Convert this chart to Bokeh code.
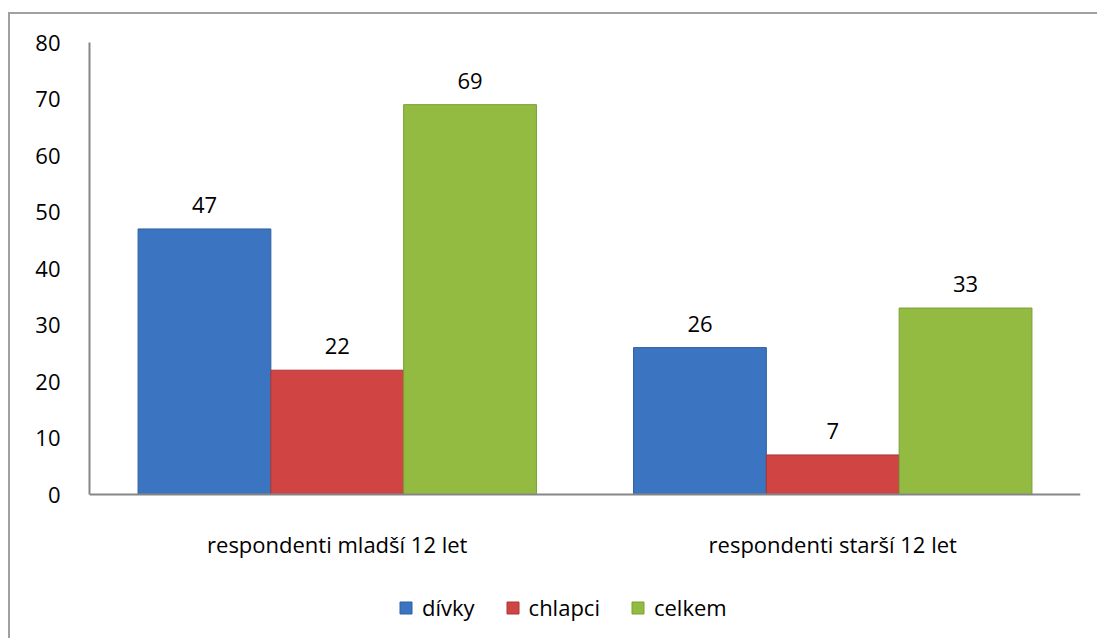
from bokeh.plotting import figure
from bokeh.models import ColumnDataSource, FactorRange, Range1d, Legend, LegendItem, LabelSet, InlineStyleSheet
from bokeh.core.properties import value
from bokeh.transform import dodge
from bokeh.embed import file_html
from bokeh.resources import INLINE

categories = ["respondenti mladší 12 let", "respondenti starší 12 let"]
series = ["dívky", "chlapci", "celkem"]
divky = [47, 26]
chlapci = [22, 7]
celkem = [69, 33]
colors = ["#3b74c1", "#d04543", "#93bb42"]
edge_colors = ["#30609f", "#a83735", "#7a9e37"]
y_ticks = [0, 10, 20, 30, 40, 50, 60, 70, 80]
y_max = 80

FONT = "Open Sans"
FS = "22px"

# layout in pixels: value axis 0..80 spans 452 px, area below it for labels + legend
AXIS_PX = 452
BELOW_PX = 144
y_min = -y_max * BELOW_PX / AXIS_PX

src = ColumnDataSource(dict(cat=categories, divky=divky, chlapci=chlapci, celkem=celkem,
                            divky_t=[str(v) for v in divky],
                            chlapci_t=[str(v) for v in chlapci],
                            celkem_t=[str(v) for v in celkem]))

p = figure(x_range=FactorRange(factors=categories, range_padding=0),
           y_range=Range1d(y_min, y_max), frame_width=991, frame_height=AXIS_PX + BELOW_PX,
           output_backend="svg", toolbar_location=None,
           min_border_left=89, min_border_right=10, min_border_top=42, min_border_bottom=0)

# outer chart border (only its top and left edges are visible in the reference)
p.stylesheets = [InlineStyleSheet(css="""
:host { position: relative; }
:host::before {
  content: ""; position: absolute; left: 8px; top: 12px; right: -40px; bottom: -40px;
  border-top: 2px solid #a0a0a0; border-left: 2px solid #a0a0a0;
  pointer-events: none; z-index: 5;
}
""")]

p.outline_line_color = None
p.xgrid.grid_line_color = None
p.ygrid.grid_line_color = None

w = 0.268
offsets = [-w, 0.0, w]
keys = ["divky", "chlapci", "celkem"]
renderers = []
for key, off, col, ec in zip(keys, offsets, colors, edge_colors):
    r = p.vbar(x=dodge("cat", off, range=p.x_range), top=key, bottom=0, width=w, source=src,
               fill_color=col, line_color=ec, line_width=1)
    renderers.append(r)
    lbl = LabelSet(x=dodge("cat", off, range=p.x_range), y=key, text=key + "_t", source=src,
                   text_align="center", text_baseline="bottom", y_offset=16,
                   text_font=value(FONT), text_font_size=FS, text_color="#000000")
    p.add_layout(lbl)

p.yaxis.ticker = y_ticks
p.yaxis.bounds = (0, y_max)
p.yaxis.axis_line_color = "#868686"
p.yaxis.axis_line_width = 2
p.yaxis.major_tick_line_color = None
p.yaxis.minor_tick_line_color = None
p.yaxis.major_label_standoff = 23
p.yaxis.major_label_text_font = FONT
p.yaxis.major_label_text_font_size = FS
p.yaxis.major_label_text_color = "#000000"

p.xaxis.fixed_location = 0
p.xaxis.axis_line_color = "#868686"
p.xaxis.axis_line_width = 2
p.xaxis.major_tick_line_color = None
p.xaxis.minor_tick_line_color = None
p.xaxis.major_label_standoff = 28
p.xaxis.major_label_text_font = FONT
p.xaxis.major_label_text_font_size = FS
p.xaxis.major_label_text_color = "#000000"

legend = Legend(items=[LegendItem(label=s, renderers=[r]) for s, r in zip(series, renderers)],
                orientation="horizontal", location=(309, 16),
                label_text_font=FONT, label_text_font_size=FS, label_text_color="#000000",
                glyph_width=15, glyph_height=15, spacing=30, label_standoff=9,
                border_line_color=None, background_fill_alpha=0, padding=0, margin=0)
p.add_layout(legend, "center")

open("out.html", "w").write(file_html(p, INLINE))
